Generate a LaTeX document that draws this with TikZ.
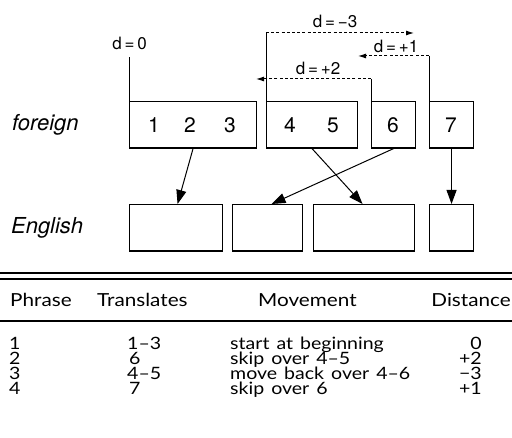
\documentclass[tikz,border=0pt]{standalone}
\usepackage{fontspec}
\setmainfont{TeX Gyre Heros}
\newfontfamily\tabfont[FakeStretch=1.15,WordSpace=1.4]{Lato}
\usetikzlibrary{arrows.meta}
\begin{document}
\begin{tikzpicture}[x=1pt,y=-1pt,
  box/.style={draw,line width=1.1pt,minimum width=#1,minimum height=46.5pt,inner sep=0pt,anchor=north west},
  digit/.style={font=\fontsize{21}{21}\selectfont,inner sep=0pt},
  rowlbl/.style={font=\fontsize{22}{22}\selectfont\itshape,inner sep=0pt,anchor=west},
  dlbl/.style={font=\fontsize{17}{17}\selectfont,inner sep=0pt},
  stem/.style={line width=1pt},
  jump/.style={line width=1pt,dash pattern=on 3pt off 2.2pt,-{Latex[length=8pt,width=5pt]}},
  map/.style={line width=1pt,-{Triangle[length=14pt,width=10pt]}},
  rule/.style={line width=1.3pt},
  head/.style={font=\tabfont\fontsize{18}{18}\selectfont,inner sep=0pt,anchor=base west},
  tab/.style={font=\tabfont\fontsize{17}{17}\selectfont,inner sep=0pt,anchor=base west,text height=12pt,text depth=1.5pt},
  tabr/.style={tab,anchor=base east}]
\useasboundingbox (0,0) rectangle (512,438);
\fill[white] (0,0) rectangle (512,438);

% foreign phrases
\node[box=127pt] (f1) at (129,101) {};
\node[box=91pt] (f2) at (266,101) {};
\node[box=44pt] (f3) at (371,101) {};
\node[box=44pt] (f4) at (429,101) {};
\node[digit] (n1) at (154,125) {1};
\node[digit] (n2) at (190,125) {2};
\node[digit] (n3) at (230,125) {3};
\node[digit] (n4) at (290,125) {4};
\node[digit] (n5) at (333,125) {5};
\node[digit] (n6) at (393,125) {6};
\node[digit] (n7) at (451,125) {7};
\node[rowlbl] (lf) at (12,125) {foreign};

% English phrases
\node[box=93pt] (e1) at (129,204) {};
\node[box=70pt] (e2) at (232,204) {};
\node[box=101pt] (e3) at (313,204) {};
\node[box=44pt] (e4) at (429,204) {};
\node[rowlbl] (le) at (11,228) {English};

% mapping arrows
\draw[map] (f1.south) -- ([xshift=1.5pt]e1.north);
\draw[map] (f2.south) -- ([xshift=-1.5pt]e3.north);
\draw[map] (f3.south) -- ([xshift=4pt]e2.north);
\draw[map] (f4.south) -- (e4.north);

% reordering distances
\coordinate (s0) at (129,57);
\draw[stem] (f1.north west) -- (s0);
\node[dlbl] (d0) at (129.5,43) {d\,=\,0};

\coordinate (s3a) at (266,33);
\coordinate (s3b) at (414,33);
\draw[stem] (f2.north west) -- (s3a);
\draw[jump] (s3a) -- (s3b);
\node[dlbl] (d3) at (335,21) {d\,=\,−3};

\coordinate (s1a) at (429,56);
\coordinate (s1b) at (358,56);
\draw[stem] (f4.north west) -- (s1a);
\draw[jump] (s1a) -- (s1b);
\node[dlbl] (d1) at (396,46) {d\,=\,+1};

\coordinate (s2a) at (371,79);
\coordinate (s2b) at (256,79);
\draw[stem] (f3.north west) -- (s2a);
\draw[jump] (s2a) -- (s2b);
\node[dlbl] (d2) at (318,68) {d\,=\,+2};

% table
\coordinate (r1a) at (0,273); \coordinate (r1b) at (512,273);
\coordinate (r2a) at (0,279); \coordinate (r2b) at (512,279);
\coordinate (r3a) at (0,321); \coordinate (r3b) at (512,321);
\draw[rule] (r1a) -- (r1b);
\draw[rule] (r2a) -- (r2b);
\draw[rule] (r3a) -- (r3b);

\node[head] (h1) at (10,307) {Phrase};
\node[head] (h2) at (97,307) {Translates};
\node[head] (h3) at (258,307) {Movement};
\node[head,anchor=base east] (h4) at (511,307) {Distance};

\node[tab] (a1) at (9,350) {1};
\node[tab] (b1) at (127,350) {1–3};
\node[tab] (c1) at (230,350) {start at beginning};
\node[tabr] (g1) at (482,350) {0};

\node[tab] (a2) at (9,365) {2};
\node[tab] (b2) at (129,365) {6};
\node[tab] (c2) at (230,365) {skip over 4–5};
\node[tabr] (g2) at (482,365) {+2};

\node[tab] (a3) at (9,380) {3};
\node[tab] (b3) at (127,380) {4–5};
\node[tab] (c3) at (230,380) {move back over 4–6};
\node[tabr] (g3) at (482,380) {−3};

\node[tab] (a4) at (9,395) {4};
\node[tab] (b4) at (129,395) {7};
\node[tab] (c4) at (230,395) {skip over 6};
\node[tabr] (g4) at (482,395) {+1};
\end{tikzpicture}
\end{document}
